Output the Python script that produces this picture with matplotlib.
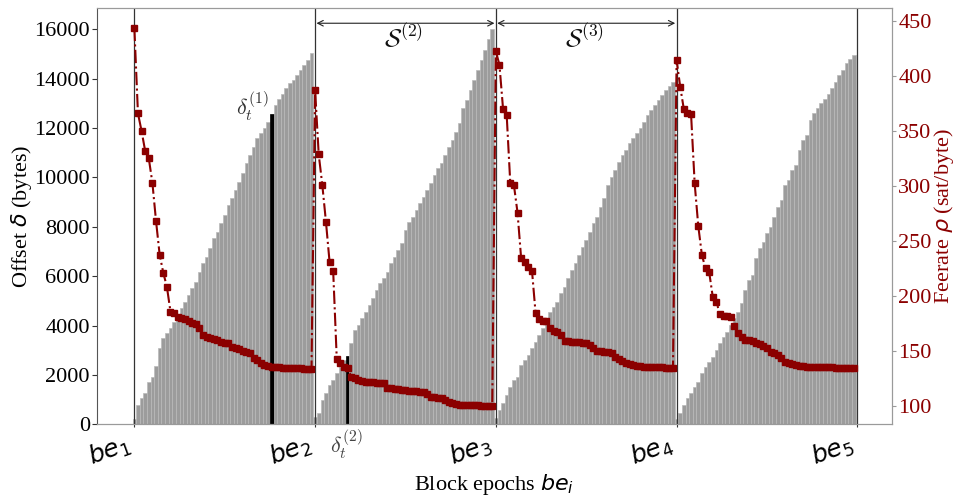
import numpy as np
import matplotlib
matplotlib.use("Agg")
import matplotlib.pyplot as plt

plt.rcParams["font.family"] = ["Liberation Serif", "DejaVu Sans"]
plt.rcParams["mathtext.fontset"] = "dejavusans"

# Offsets (bytes) of the transactions within each block epoch
offset_epoch1 = [200, 780, 1080, 1255, 1730, 1930, 2375, 3080, 3480, 3685,
                 3890, 4160, 4430, 4700, 4970, 5240, 5510, 5780, 6180, 6520,
                 6790, 7130, 7530, 7800, 8140, 8480, 8880, 9150, 9490, 9830,
                 10170, 10570, 10910, 11250, 11580, 11790, 11990, 12260, 12570, 12930,
                 13200, 13400, 13610, 13810, 13950, 14150, 14350, 14550, 14760, 15030]
offset_epoch2 = [300, 450, 985, 1255, 1590, 1800, 2065, 2335, 2605, 2767,
                 3280, 3820, 4020, 4290, 4560, 4830, 5100, 5440, 5710, 5910,
                 6180, 6520, 6790, 7060, 7330, 7870, 8210, 8410, 8680, 8950,
                 9220, 9490, 9760, 10100, 10370, 10570, 10910, 11250, 11520, 11850,
                 12190, 12800, 13140, 13540, 13950, 14350, 14760, 15160, 15630, 16000]
offset_epoch3 = [250, 580, 850, 1190, 1525, 1800, 1930, 2400, 2605, 2810,
                 3080, 3350, 3620, 3890, 4225, 4565, 4765, 4970, 5305, 5575,
                 5915, 6250, 6520, 6860, 7195, 7465, 7800, 8140, 8410, 8815,
                 9155, 9695, 10030, 10300, 10640, 10910, 11110, 11380, 11580, 11790,
                 11990, 12260, 12530, 12730, 12930, 13140, 13340, 13540, 13700, 13880]
offset_epoch4 = [200, 445, 780, 1050, 1255, 1525, 1730, 2065, 2335, 2540,
                 2740, 3010, 3280, 3550, 3750, 4025, 4290, 4565, 4900, 5440,
                 5845, 6050, 6720, 7130, 7400, 7735, 8005, 8410, 8815, 9085,
                 9695, 9895, 10300, 10500, 11110, 11515, 11720, 12325, 12600, 12800,
                 13000, 13200, 13400, 13610, 13880, 14150, 14350, 14620, 14820, 14960]

# Feerate (sat/byte) of the same transactions
feerate_epoch1 = [443.6, 365.8, 349.7, 331.5, 324.8, 302.4, 267.9, 237.3, 220.9, 208.2,
                  185.5, 183.9, 180.9, 180.0, 178.5, 177.3, 175.5, 174.2, 170.3, 164.2,
                  162.1, 161.5, 160.6, 159.7, 158.2, 157.3, 156.7, 153.6, 152.4, 151.2,
                  149.7, 148.5, 147.6, 143.0, 141.5, 138.5, 137.0, 136.1, 135.5, 135.2,
                  134.8, 134.5, 134.5, 134.2, 134.2, 133.9, 133.9, 133.6, 133.6, 133.3]
feerate_epoch2 = [387.0, 328.5, 300.6, 267.3, 230.9, 222.7, 142.1, 138.5, 135.5, 133.9,
                  126.4, 124.8, 123.3, 122.7, 121.8, 121.5, 121.2, 120.9, 120.6, 120.3,
                  116.4, 115.8, 115.2, 114.8, 114.5, 113.9, 113.6, 113.3, 113.0, 112.7,
                  112.1, 110.6, 108.2, 107.6, 107.3, 107.0, 105.2, 103.6, 102.7, 101.2,
                  100.9, 100.6, 100.6, 100.3, 100.3, 100.2, 100.1, 100.1, 100.0, 100.0]
feerate_epoch3 = [422.4, 409.7, 369.7, 364.2, 302.1, 300.6, 275.5, 233.9, 230.9, 226.4,
                  222.7, 183.9, 178.5, 177.3, 177.0, 170.3, 168.2, 166.7, 164.2, 159.1,
                  158.5, 158.2, 157.9, 157.6, 157.3, 156.7, 154.8, 152.1, 149.7, 149.4,
                  149.1, 148.8, 147.6, 144.5, 142.4, 140.6, 139.1, 137.6, 136.7, 136.1,
                  135.8, 135.5, 135.2, 135.2, 134.8, 134.8, 134.8, 134.5, 134.5, 134.5]
feerate_epoch4 = [414.2, 390.0, 369.7, 365.8, 365.2, 302.1, 263.3, 237.0, 224.8, 221.8,
                  199.1, 194.5, 183.0, 181.8, 181.2, 180.9, 172.4, 165.8, 162.7, 159.7,
                  159.4, 158.8, 156.7, 155.8, 154.5, 152.1, 149.1, 148.2, 146.1, 143.0,
                  140.0, 138.5, 137.6, 136.7, 136.1, 135.8, 135.5, 135.2, 135.2, 135.2,
                  134.8, 134.8, 134.8, 134.8, 134.5, 134.5, 134.5, 134.5, 134.2, 134.2]

epoch_labels = [r"$be_1$", r"$be_2$", r"$be_3$", r"$be_4$", r"$be_5$"]
txs_per_epoch = 50
highlight_idx = [38, 59]          # delta_t^(1) and delta_t^(2)
offset_ticks = list(range(0, 16001, 2000))
feerate_ticks = list(range(100, 451, 50))

offsets = np.array(offset_epoch1 + offset_epoch2 + offset_epoch3 + offset_epoch4)
feerates = np.array(feerate_epoch1 + feerate_epoch2 + feerate_epoch3 + feerate_epoch4)
x = np.arange(len(offsets))
epoch_pos = np.arange(len(epoch_labels)) * txs_per_epoch

RED = "#8b0000"

fig = plt.figure(figsize=(9.56, 4.99), dpi=100)
ax = fig.add_axes([0.1012, 0.1497, 0.8319, 0.8337])

colors = ["black" if i in highlight_idx else "#9c9c9c" for i in x]
edges = ["black" if i in highlight_idx else "#b9b9b9" for i in x]
ax.bar(x, offsets, width=1.0, color=colors, edgecolor=edges, linewidth=0.5, zorder=2)

for p in epoch_pos:
    ax.axvline(p, color="#333333", lw=0.9, zorder=3)

ax.set_xlim(-10.4, 209.6)
ax.set_ylim(0, 16856)
ax.set_yticks(offset_ticks)
ax.set_xticks(epoch_pos)
ax.set_xticklabels(epoch_labels, rotation=20, ha="right", fontsize=18)
ax.tick_params(axis="y", labelsize=16, length=3.5, width=0.8, colors="#333333",
               labelcolor="black", pad=1.5)
ax.tick_params(axis="x", length=2.5, width=0.8, colors="#333333", labelcolor="black",
               pad=2)
ax.set_ylabel(r"Offset $\delta$ (bytes)", fontsize=16, labelpad=0)
ax.set_xlabel(r"Block epochs $be_i$", fontsize=16, labelpad=1)
for s in ax.spines.values():
    s.set_color("#9a9a9a")
ax.spines["left"].set_color("#555555")

# delta_t annotations on the highlighted transactions
ax.text(highlight_idx[0] - 0.7, 12880, r"$\delta_t^{(1)}$", ha="right", va="center",
        fontsize=16, math_fontfamily="cm", color="#333333", zorder=5)
ax.text(highlight_idx[1] - 0.25, -800, r"$\delta_t^{(2)}$", ha="center", va="center",
        fontsize=16, math_fontfamily="cm", color="#444444", clip_on=False)

# Span arrows over epochs 2 and 3
for k, lab in [(1, r"$\mathcal{S}^{(2)}$"), (2, r"$\mathcal{S}^{(3)}$")]:
    ax.annotate("", xy=(epoch_pos[k], 16250), xytext=(epoch_pos[k + 1], 16250),
                arrowprops=dict(arrowstyle="<->", color="#222222", lw=0.8,
                                mutation_scale=10, shrinkA=1, shrinkB=1), zorder=5)
    ax.text((epoch_pos[k] + epoch_pos[k + 1]) / 2 - 0.6, 15690, lab, ha="center",
            va="center", fontsize=18, math_fontfamily="cm", color="#111111", zorder=5)

ax2 = ax.twinx()
ax2.plot(x, feerates, color=RED, ls="-.", lw=1.5, marker="s", markersize=4.5,
         zorder=4)
ax2.set_ylim(83.1, 461.3)
ax2.set_yticks(feerate_ticks)
ax2.tick_params(axis="y", labelsize=16, colors="#9a9a9a", labelcolor=RED,
                length=3, width=0.8, pad=1.5)
ax2.set_ylabel(r"Feerate $\rho$ (sat/byte)", fontsize=16, color=RED, labelpad=0)
for s in ax2.spines.values():
    s.set_color("#9a9a9a")
ax2.spines["left"].set_visible(False)

fig.savefig("out.png", dpi=100)
